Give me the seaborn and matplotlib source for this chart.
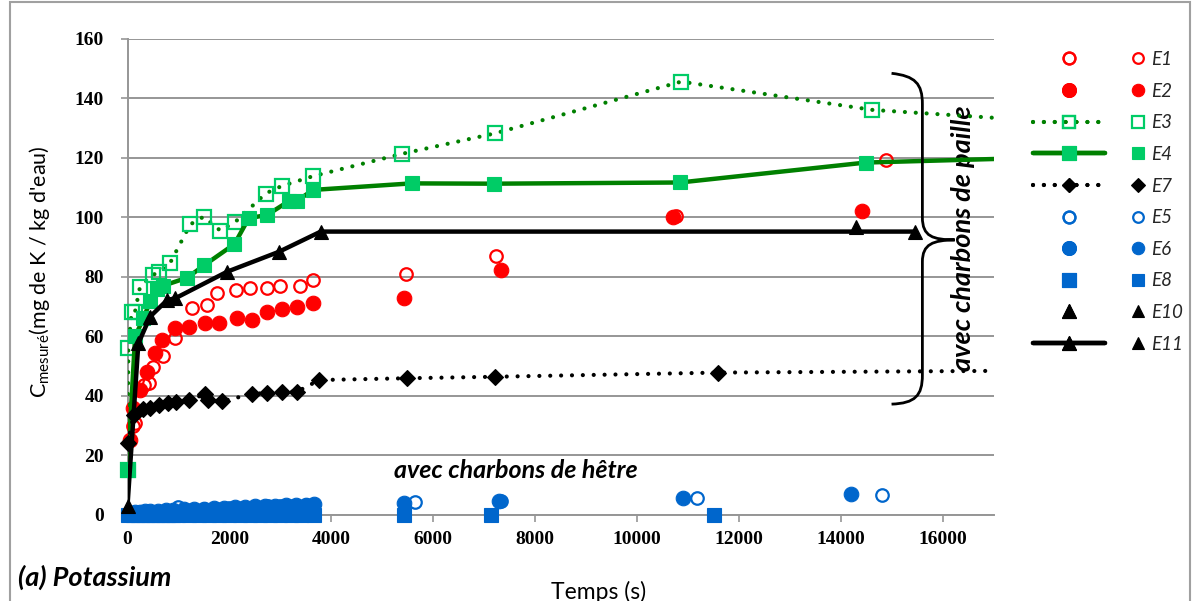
import numpy as np
import matplotlib
matplotlib.use("Agg")
import matplotlib.pyplot as plt
import seaborn as sns
from matplotlib.path import Path
from matplotlib.patches import PathPatch, Rectangle
from matplotlib.lines import Line2D

# ---------------- data ----------------
XMAX = 17000
e1_t = [100, 150, 330, 420, 510, 700, 940, 1270, 1560, 1760, 2120, 2410, 2740, 3000, 3380, 3630, 5455, 7222, 10760, 14872]
e1_v = [30.0, 31.0, 43.6, 44.3, 49.8, 53.4, 59.5, 69.4, 70.5, 74.5, 75.6, 76.1, 76.1, 76.9, 76.9, 78.9, 80.9, 87.0, 100.5, 119.3]

e2_t = [50, 115, 250, 380, 540, 670, 940, 1200, 1530, 1790, 2140, 2450, 2740, 3040, 3330, 3630, 5432, 7323, 10708, 14420]
e2_v = [25.1, 36.0, 42.0, 48.1, 54.3, 58.8, 62.7, 63.2, 64.4, 64.4, 66.0, 65.5, 68.3, 69.1, 70.0, 71.1, 73.0, 82.3, 100.2, 102.1]

e3_t = [0, 16, 82, 148, 246, 496, 627, 837, 1231, 1493, 1822, 2118, 2709, 3024, 3635, 5377, 7206, 10864, 14615, 21000]
e3_v = [15.0, 56.0, 68.3, 68.3, 76.7, 80.6, 81.7, 84.7, 97.6, 100.2, 95.5, 98.5, 108.0, 110.5, 113.8, 121.3, 128.2, 145.6, 136.1, 129.0]

e4_t = [0, 150, 312, 450, 575, 700, 1172, 1507, 2098, 2380, 2742, 3162, 3320, 3635, 5572, 7183, 10840, 14482, 21000]
e4_v = [15.0, 60.0, 66.0, 72.0, 76.0, 77.0, 79.7, 83.9, 91.0, 99.7, 100.8, 105.4, 105.4, 109.2, 111.4, 111.3, 111.7, 118.4, 121.5]

e7_t = [0, 120, 300, 450, 620, 800, 950, 1200, 1520, 1580, 1850, 2450, 2740, 3040, 3330, 3760, 5479, 7206, 11580, 21000]
e7_v = [24.0, 33.5, 35.5, 36.0, 37.0, 37.5, 38.0, 38.6, 40.5, 38.5, 38.2, 40.6, 41.0, 41.4, 41.4, 45.3, 45.9, 46.4, 47.8, 48.8]

e5_t = [80, 200, 330, 480, 650, 800, 1000, 1250, 1500, 1750, 2000, 2250, 2500, 2750, 3000, 3250, 3500, 5650, 7323, 11175, 14809]
e5_v = [0.3, 0.5, 0.7, 0.9, 1.1, 1.3, 2.5, 1.6, 1.8, 2.0, 2.2, 2.4, 2.6, 2.8, 3.0, 3.1, 3.2, 4.2, 4.7, 5.8, 6.8]

e6_t = [60, 150, 250, 350, 450, 600, 750, 900, 1100, 1300, 1500, 1700, 1900, 2100, 2300, 2500, 2700, 2900, 3100, 3300, 3500, 3650, 5432, 7284, 10903, 14195]
e6_v = [0.5, 0.8, 1.0, 1.2, 1.3, 1.4, 1.5, 1.6, 1.8, 2.0, 2.1, 2.3, 2.4, 2.6, 2.7, 2.9, 3.0, 3.1, 3.2, 3.3, 3.4, 3.5, 3.9, 4.7, 5.6, 6.9]

e8_t = [0, 100, 200, 300, 400, 500, 600, 700, 800, 900, 1000, 1200, 1400, 1600, 1800, 2000, 2200, 2400, 2600, 2800, 3000, 3200, 3400, 3650, 5416, 7128, 11510]
e8_v = [0.0] * len(e8_t)

e10_t = [14300]
e10_v = [96.8]

e11_t = [0, 213, 443, 780, 940, 1954, 2970, 3792, 15455]
e11_v = [3.0, 57.6, 66.6, 72.2, 72.8, 81.7, 88.4, 95.2, 95.2]

labels = ["E1", "E2", "E3", "E4", "E7", "E5", "E6", "E8", "E10", "E11"]
y_ticks = [0, 20, 40, 60, 80, 100, 120, 140, 160]
x_ticks = [0, 2000, 4000, 6000, 8000, 10000, 12000, 14000, 16000]

# ---------------- style ----------------
sns.set_theme(style="white")
plt.rcParams['font.family'] = ['Lato', 'DejaVu Sans']

RED = '#FF0000'
GREEN_M = '#00CC66'
GREEN_L = '#008000'
BLUE = '#0066CC'
GRID = '#969696'

fig = plt.figure(figsize=(11.98, 6.01), dpi=100)
ax = fig.add_axes([127.5 / 1198, 1 - 514.8 / 601, (994 - 127.5) / 1198, (514.8 - 38.8) / 601])

DOT = (0, (0.01, 2.6))

series = [
    # t, v, marker, size, face, edge, line color, linestyle, lw
    (e1_t, e1_v, 'o', 9, 'none', RED, None, None, 0),
    (e2_t, e2_v, 'o', 10.5, RED, RED, None, None, 0),
    (e3_t, e3_v, 's', 9.5, 'none', GREEN_M, GREEN_L, DOT, 3.0),
    (e4_t, e4_v, 's', 10, GREEN_M, GREEN_M, GREEN_L, '-', 3.2),
    (e7_t, e7_v, 'D', 8, 'black', 'black', 'black', DOT, 3.0),
    (e5_t, e5_v, 'o', 9, 'none', BLUE, None, None, 0),
    (e6_t, e6_v, 'o', 10.5, BLUE, BLUE, None, None, 0),
    (e8_t, e8_v, 's', 10, BLUE, BLUE, None, None, 0),
    (e10_t, e10_v, '^', 10, 'black', 'black', None, None, 0),
    (e11_t, e11_v, '^', 10, 'black', 'black', 'black', '-', 3.2),
]

z = 3
for (t, v, mk, ms, fc, ec, lc, ls, lw) in series:
    t = np.asarray(t, float)
    v = np.asarray(v, float)
    if lc is not None:
        sns.lineplot(x=t, y=v, ax=ax, color=lc, linewidth=lw, linestyle=ls,
                     dash_capstyle='round', solid_capstyle='butt',
                     estimator=None, sort=False, zorder=z)
    m = t <= XMAX
    sns.lineplot(x=t[m], y=v[m], ax=ax, linestyle='none', marker=mk, markersize=ms,
                 markerfacecolor=fc, markeredgecolor=ec,
                 markeredgewidth=1.6 if fc == 'none' else 0.8,
                 color=ec, estimator=None, sort=False, zorder=z + 0.5, clip_on=False)
    z += 1

ax.set_xlim(0, XMAX)
ax.set_ylim(0, 160)
ax.set_xticks(x_ticks)
ax.set_yticks(y_ticks)
ax.set_xticklabels([str(x) for x in x_ticks])
ax.set_yticklabels([str(y) for y in y_ticks])
ax.yaxis.grid(True, color=GRID, linewidth=1.4)
ax.xaxis.grid(False)
ax.set_axisbelow(True)
for s in ['top', 'right']:
    ax.spines[s].set_visible(False)
for s in ['left', 'bottom']:
    ax.spines[s].set_color(GRID)
    ax.spines[s].set_linewidth(1.4)
ax.tick_params(axis='both', which='major', direction='out', length=5, width=1.2, color=GRID,
               bottom=True, left=True)
ax.tick_params(axis='y', pad=12)
ax.tick_params(axis='x', pad=7)
for lab in ax.get_xticklabels() + ax.get_yticklabels():
    lab.set_fontfamily('Liberation Serif')
    lab.set_fontweight('bold')
    lab.set_fontsize(14)
    lab.set_color('black')

ax.set_xlabel("Temps (s)", fontsize=16.5, color='black')
ax.xaxis.set_label_coords(0.544, -0.138)
ax.set_ylabel("C$_{\\mathregular{mesuré}}$(mg de K / kg d'eau)", fontsize=15.5, color='black')
ax.yaxis.set_label_coords(-0.087, 0.51)

# annotations
ax.text(5230, 15, "avec charbons de hêtre", fontsize=18, fontstyle='italic', fontweight='bold',
        va='center', ha='left', color='black')
ax.text(16390, 93, "avec charbons de paille", fontsize=19.5, fontstyle='italic', fontweight='bold',
        va='center', ha='center', rotation=90, color='black', clip_on=False)
fig.text(18 / 1198, 1 - 577 / 601, "(a) Potassium", fontsize=19.5, fontstyle='italic', fontweight='bold',
         va='center', ha='left', color='black')

# brace
verts = [(14990, 148.4), (15450, 147.5), (15595, 145), (15595, 138),
         (15595, 100),
         (15595, 93.5), (15800, 92.5), (16230, 92.4),
         (15800, 92.3), (15595, 91), (15595, 85),
         (15595, 47),
         (15595, 40), (15450, 37.5), (14990, 37.2)]
codes = [Path.MOVETO, Path.CURVE4, Path.CURVE4, Path.CURVE4,
         Path.LINETO,
         Path.CURVE4, Path.CURVE4, Path.CURVE4,
         Path.CURVE4, Path.CURVE4, Path.CURVE4,
         Path.LINETO,
         Path.CURVE4, Path.CURVE4, Path.CURVE4]
ax.add_patch(PathPatch(Path(verts, codes), facecolor='none', edgecolor='black', lw=2.0,
                       clip_on=False, zorder=20))

# legends (line samples column + marker/label column)
h_line, h_mark = [], []
for (t, v, mk, ms, fc, ec, lc, ls, lw) in series:
    h_line.append(Line2D([], [], color=lc if lc else 'none', linestyle=ls if ls else 'none',
                         linewidth=lw, dash_capstyle='round', marker=mk, markersize=ms * 0.95,
                         markerfacecolor=fc, markeredgecolor=ec,
                         markeredgewidth=1.6 if fc == 'none' else 0.8))
    h_mark.append(Line2D([], [], linestyle='none', marker=mk, markersize=ms * 0.85,
                         markerfacecolor=fc, markeredgecolor=ec,
                         markeredgewidth=1.6 if fc == 'none' else 0.8))

LEG_PROP = {'style': 'italic', 'size': 13.5}
leg1 = fig.legend(h_line, labels, loc='upper left', bbox_to_anchor=(1033 / 1198, 1 - 51 / 601),
                  frameon=False, handlelength=3.85, handletextpad=0.2,
                  labelspacing=0.78, borderpad=0, borderaxespad=0, prop=LEG_PROP)
for tx in leg1.get_texts():
    tx.set_color('none')
leg2 = fig.legend(h_mark, labels, loc='upper left', bbox_to_anchor=(1128 / 1198, 1 - 51 / 601),
                  frameon=False, handlelength=1.1, handletextpad=0.15,
                  labelspacing=0.78, borderpad=0, borderaxespad=0, prop=LEG_PROP)
fig.add_artist(leg1)

# outer frame
fig.add_artist(Rectangle((10 / 1198, -0.05), (1190 - 10) / 1198, 1.05 - 2 / 601, transform=fig.transFigure,
                         facecolor='none', edgecolor='#A0A0A0', lw=1.5))

fig.savefig("out.png", dpi=100)
